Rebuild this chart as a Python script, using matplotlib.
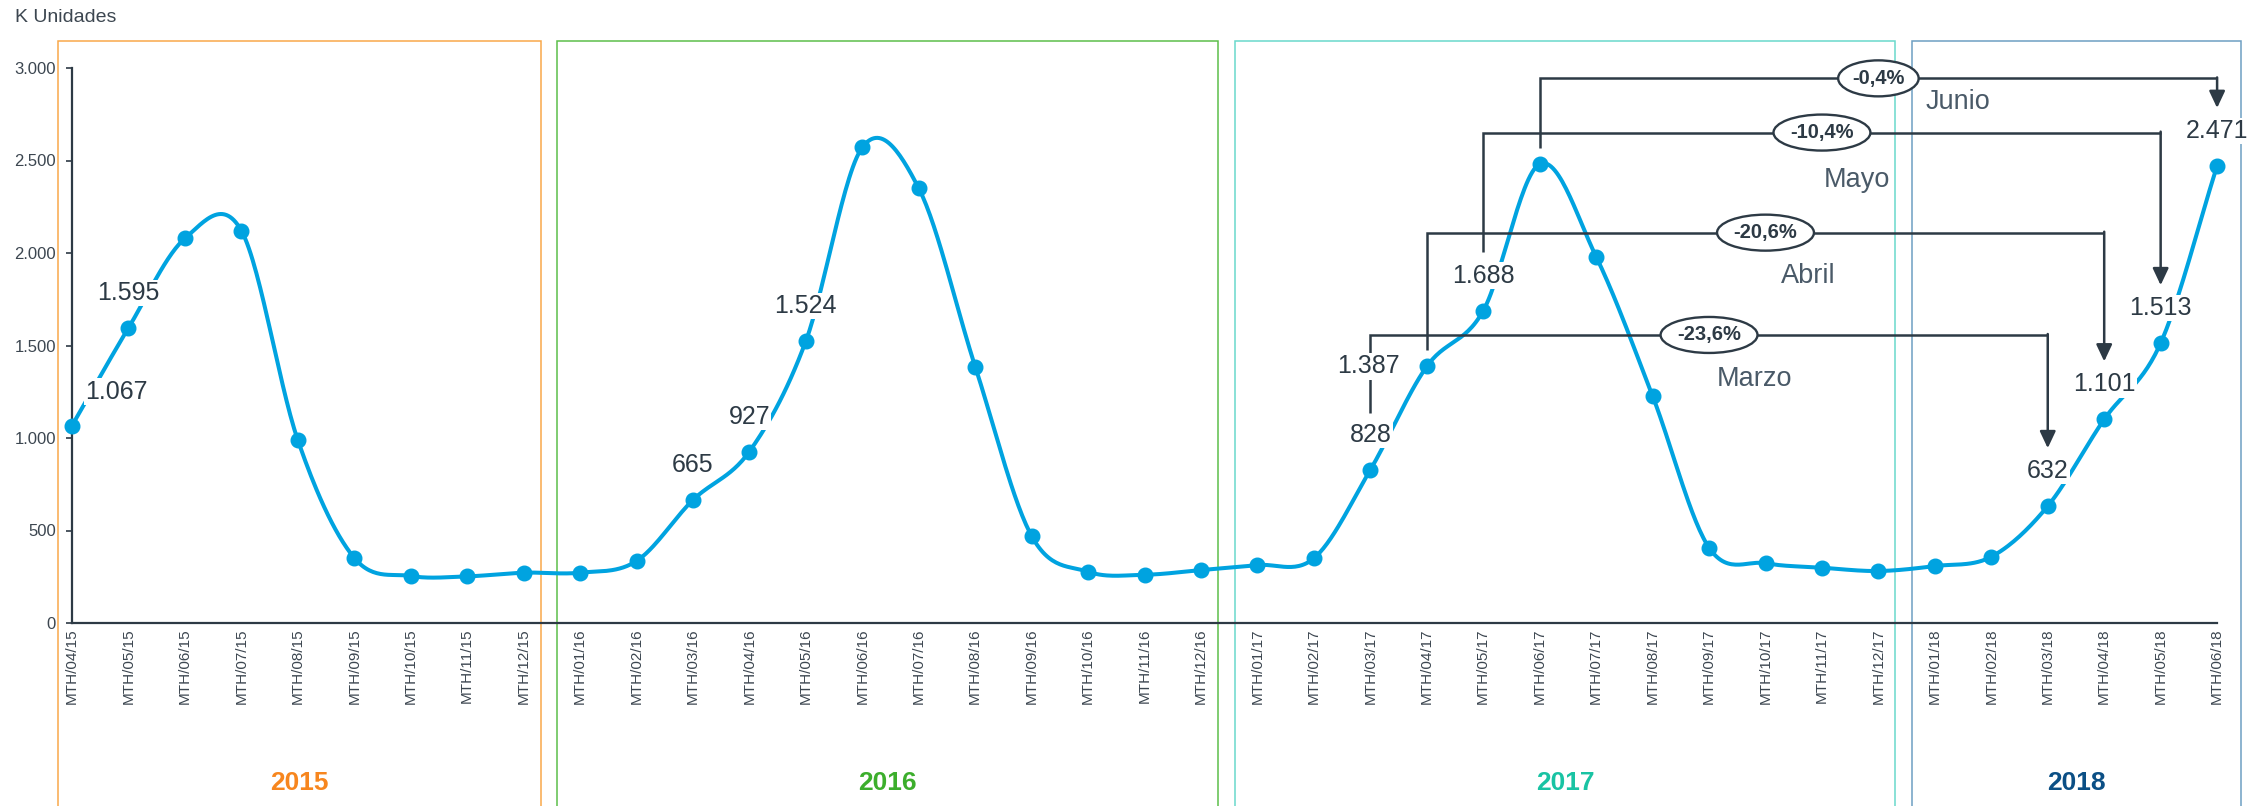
import numpy as np
import matplotlib.pyplot as plt
from matplotlib.patches import Rectangle, Ellipse

plt.rcParams['font.family'] = ['Liberation Sans', 'DejaVu Sans']

# Data (K units per month)
months = ['04/15', '05/15', '06/15', '07/15', '08/15', '09/15', '10/15', '11/15', '12/15',
          '01/16', '02/16', '03/16', '04/16', '05/16', '06/16', '07/16', '08/16', '09/16',
          '10/16', '11/16', '12/16',
          '01/17', '02/17', '03/17', '04/17', '05/17', '06/17', '07/17', '08/17', '09/17',
          '10/17', '11/17', '12/17',
          '01/18', '02/18', '03/18', '04/18', '05/18', '06/18']
values = [1067, 1595, 2079, 2121, 989, 352, 254, 252, 272,
          272, 335, 665, 927, 1524, 2571, 2350, 1386, 470, 277, 261, 286,
          313, 350, 828, 1387, 1688, 2481, 1980, 1227, 407, 323, 299, 281,
          308, 358, 632, 1101, 1513, 2471]
years = ['2015', '2016', '2017', '2018']
year_first = [0, 9, 21, 33]
year_last = [8, 20, 32, 38]
year_colors = ['#f7861e', '#3cae2c', '#19c3a3', '#0b4f85']
box_colors = ['#f9a84a', '#5cbf4a', '#6ad9cb', '#6e9fc2']

# labelled points and comparisons 2017 -> 2018
label_idx = [0, 1, 11, 12, 13, 23, 24, 25, 35, 36, 37, 38]
comp_from = [23, 24, 25, 26]
comp_to = [35, 36, 37, 38]
comp_pct = ['-23,6%', '-20,6%', '-10,4%', '-0,4%']
comp_month = ['Marzo', 'Abril', 'Mayo', 'Junio']

DARK = '#2d3a45'
BLUE = '#00a3e0'
GREY = '#3c4650'

# pixel layout of the reference
W, H = 2262, 806
X0, DX = 72, 56.45     # pixel of first month, pixels per month
Y0, DY = 623, 0.185    # pixel of zero, pixels per unit


def fmt(v):
    return f'{v:,}'.replace(',', '.')


def smooth(x, y, n=30):
    # Excel-like smoothed line (Catmull-Rom as bezier), done in pixel space
    P = np.column_stack([np.asarray(x) * DX, np.asarray(y) * DY])
    P = np.vstack([2 * P[0] - P[1], P, 2 * P[-1] - P[-2]])
    t = np.linspace(0, 1, n, endpoint=False)[:, None]
    segs = []
    for i in range(1, len(P) - 2):
        p0, p1, p2, p3 = P[i - 1], P[i], P[i + 1], P[i + 2]
        c1 = p1 + (p2 - p0) / 6
        c2 = p2 - (p3 - p1) / 6
        segs.append((1 - t) ** 3 * p1 + 3 * (1 - t) ** 2 * t * c1 + 3 * (1 - t) * t ** 2 * c2 + t ** 3 * p2)
    segs.append(P[-2][None])
    out = np.vstack(segs)
    return out[:, 0] / DX, out[:, 1] / DY


fig = plt.figure(figsize=(W / 100, H / 100), dpi=100)
ax = fig.add_axes([0, 0, 1, 1])
ax.set_xlim(-X0 / DX, (W - X0) / DX)
ax.set_ylim((Y0 - H) / DY, Y0 / DY)

# axes
for s in ['top', 'right']:
    ax.spines[s].set_visible(False)
ax.spines['left'].set_position(('data', 0))
ax.spines['left'].set_bounds(0, 3000)
ax.spines['bottom'].set_position(('data', 0))
ax.spines['bottom'].set_bounds(0, len(months) - 1)
for s in ['left', 'bottom']:
    ax.spines[s].set_color(DARK)
    ax.spines[s].set_linewidth(1.6)

yt = np.arange(0, 3001, 500)
ax.set_yticks(yt)
ax.set_yticklabels([fmt(v) for v in yt], fontsize=12, color=GREY)
ax.tick_params(axis='y', direction='out', length=4.5, width=1.2, color=DARK, pad=7)
ax.set_xticks(range(len(months)))
ax.set_xticklabels(['MTH/' + m for m in months], rotation=90, fontsize=11, color=GREY, va='top')
ax.tick_params(axis='x', length=0, pad=4)

fig.text(15 / W, 1 - 17 / H, 'K Unidades', fontsize=14, color=GREY, va='center', ha='left')

# year boxes
top_box = (Y0 - 40.7) / DY
bot_box = (Y0 - H - 50) / DY
for k in range(4):
    left = year_first[k] - (0.25 if k == 0 else 0.4)
    right = year_last[k] + (0.42 if k == 3 else 0.3)
    ax.add_patch(Rectangle((left, bot_box), right - left, top_box - bot_box, fill=False,
                           ec=box_colors[k], lw=1.1, zorder=1, clip_on=True))
    ax.text((left + right) / 2, (Y0 - 783) / DY, years[k], ha='center', va='center',
            fontsize=19, fontweight='bold', color=year_colors[k])

# line
x = np.arange(len(values))
sx, sy = smooth(x, values)
ax.plot(sx, sy, color=BLUE, lw=2.9, zorder=3, solid_capstyle='round')
ax.plot(x, values, 'o', ms=10.5, color=BLUE, mec=BLUE, zorder=3)

# data labels
for i in label_idx:
    off = (0, 25.2)
    if i == 0:
        off = (32, 24.5)
    elif i == 24:
        off = (-42, 0)
    ax.annotate(fmt(values[i]), (i, values[i]), xytext=off, textcoords='offset points',
                ha='center', va='center', fontsize=18, color=DARK, zorder=6,
                bbox=dict(boxstyle='square,pad=0.05', fc='white', ec='none'))

# comparison brackets
tops = [1557, 2110, 2651, 2944]
start_off = [307, 89, 317, 87]
month_off = [(33, -32), (31, -31), (25.5, -34.5), (57, -17)]
for k in range(4):
    a, b = comp_from[k], comp_to[k]
    top = tops[k]
    ax.plot([a, a, b], [values[a] + start_off[k], top, top], color=DARK, lw=1.8,
            zorder=4, solid_joinstyle='miter', solid_capstyle='butt')
    ax.annotate('', xy=(b, values[b] + 313), xytext=(b, top + 5),
                arrowprops=dict(arrowstyle='-|>,head_length=0.85,head_width=0.4',
                                mutation_scale=12, lw=1.8, color=DARK,
                                shrinkA=0, shrinkB=0), zorder=4)
    cx = (a + b) / 2
    ew = (16.4 * len(comp_pct[k]) - 1.5) / DX
    ax.add_patch(Ellipse((cx, top), ew, 36 / DY, fc='white', ec=DARK, lw=1.7, zorder=5))
    ax.text(cx, top, comp_pct[k], ha='center', va='center', fontsize=14.5,
            fontweight='bold', color=DARK, zorder=6)
    ax.annotate(comp_month[k], (cx, top), xytext=month_off[k], textcoords='offset points',
                ha='center', va='center', fontsize=19.5, color='#4a5a68', zorder=6)

fig.savefig('out.png', dpi=100)
